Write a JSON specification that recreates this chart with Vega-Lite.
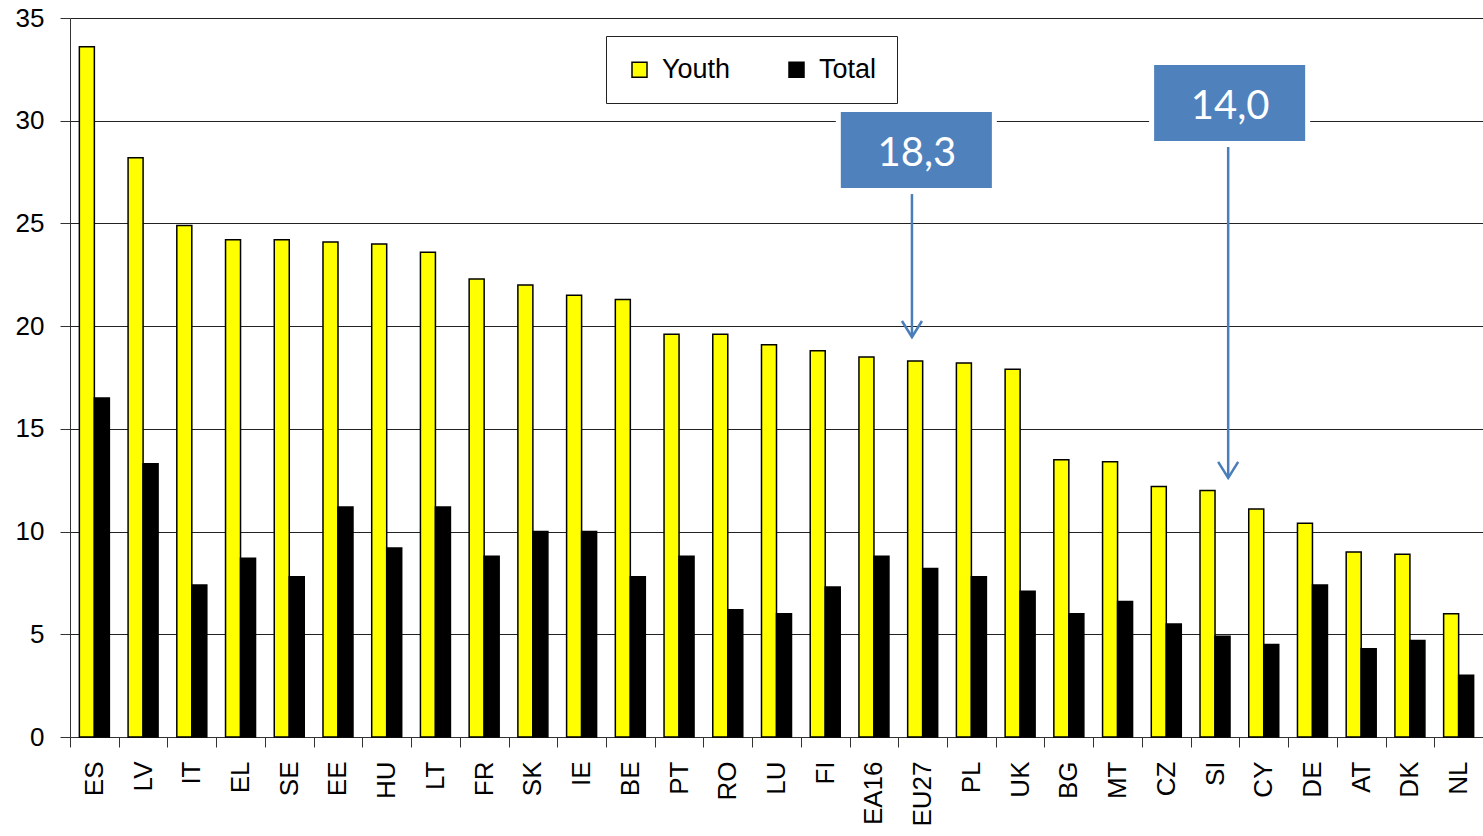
{
  "$schema": "https://vega.github.io/schema/vega-lite/v6.json",
  "width": 1413,
  "height": 719,
  "autosize": {"type": "none"},
  "padding": {"left": 70, "top": 18, "right": 0, "bottom": 99},
  "background": "white",
  "config": {
    "view": {"stroke": null},
    "font": "Liberation Sans"
  },
  "datasets": {
    "bars": [
      {"country": "ES", "series": "Youth", "value": 33.6}, {"country": "ES", "series": "Total", "value": 16.5},
      {"country": "LV", "series": "Youth", "value": 28.2}, {"country": "LV", "series": "Total", "value": 13.3},
      {"country": "IT", "series": "Youth", "value": 24.9}, {"country": "IT", "series": "Total", "value": 7.4},
      {"country": "EL", "series": "Youth", "value": 24.2}, {"country": "EL", "series": "Total", "value": 8.7},
      {"country": "SE", "series": "Youth", "value": 24.2}, {"country": "SE", "series": "Total", "value": 7.8},
      {"country": "EE", "series": "Youth", "value": 24.1}, {"country": "EE", "series": "Total", "value": 11.2},
      {"country": "HU", "series": "Youth", "value": 24.0}, {"country": "HU", "series": "Total", "value": 9.2},
      {"country": "LT", "series": "Youth", "value": 23.6}, {"country": "LT", "series": "Total", "value": 11.2},
      {"country": "FR", "series": "Youth", "value": 22.3}, {"country": "FR", "series": "Total", "value": 8.8},
      {"country": "SK", "series": "Youth", "value": 22.0}, {"country": "SK", "series": "Total", "value": 10.0},
      {"country": "IE", "series": "Youth", "value": 21.5}, {"country": "IE", "series": "Total", "value": 10.0},
      {"country": "BE", "series": "Youth", "value": 21.3}, {"country": "BE", "series": "Total", "value": 7.8},
      {"country": "PT", "series": "Youth", "value": 19.6}, {"country": "PT", "series": "Total", "value": 8.8},
      {"country": "RO", "series": "Youth", "value": 19.6}, {"country": "RO", "series": "Total", "value": 6.2},
      {"country": "LU", "series": "Youth", "value": 19.1}, {"country": "LU", "series": "Total", "value": 6.0},
      {"country": "FI", "series": "Youth", "value": 18.8}, {"country": "FI", "series": "Total", "value": 7.3},
      {"country": "EA16", "series": "Youth", "value": 18.5}, {"country": "EA16", "series": "Total", "value": 8.8},
      {"country": "EU27", "series": "Youth", "value": 18.3}, {"country": "EU27", "series": "Total", "value": 8.2},
      {"country": "PL", "series": "Youth", "value": 18.2}, {"country": "PL", "series": "Total", "value": 7.8},
      {"country": "UK", "series": "Youth", "value": 17.9}, {"country": "UK", "series": "Total", "value": 7.1},
      {"country": "BG", "series": "Youth", "value": 13.5}, {"country": "BG", "series": "Total", "value": 6.0},
      {"country": "MT", "series": "Youth", "value": 13.4}, {"country": "MT", "series": "Total", "value": 6.6},
      {"country": "CZ", "series": "Youth", "value": 12.2}, {"country": "CZ", "series": "Total", "value": 5.5},
      {"country": "SI", "series": "Youth", "value": 12.0}, {"country": "SI", "series": "Total", "value": 4.9},
      {"country": "CY", "series": "Youth", "value": 11.1}, {"country": "CY", "series": "Total", "value": 4.5},
      {"country": "DE", "series": "Youth", "value": 10.4}, {"country": "DE", "series": "Total", "value": 7.4},
      {"country": "AT", "series": "Youth", "value": 9.0}, {"country": "AT", "series": "Total", "value": 4.3},
      {"country": "DK", "series": "Youth", "value": 8.9}, {"country": "DK", "series": "Total", "value": 4.7},
      {"country": "NL", "series": "Youth", "value": 6.0}, {"country": "NL", "series": "Total", "value": 3.0}
    ],
    "notes": [
      {"label": "18,3", "bx1": 15.82, "bx2": 18.92, "by1": 26.72, "by2": 30.42, "ax": 17.28, "ay1": 26.43, "ay2": 19.47, "tx": 17.38, "ty": 27.8},
      {"label": "14,0", "bx1": 22.25, "bx2": 25.35, "by1": 29.01, "by2": 32.71, "ax": 23.77, "ay1": 28.72, "ay2": 12.61, "tx": 23.81, "ty": 30.08}
    ]
  },
  "resolve": {"scale": {"x": "independent"}},
  "layer": [
    {
      "data": {"name": "bars"},
      "mark": {"type": "bar", "stroke": "black", "strokeWidth": 1.5},
      "encoding": {
        "x": {
          "field": "country", "type": "nominal", "sort": null,
          "scale": {"paddingInner": 0, "paddingOuter": 0},
          "axis": {
            "title": null, "labelAngle": -90, "labelFontSize": 26, "labelColor": "#000",
            "labelPadding": 14, "tickSize": 10, "tickColor": "#333", "domainColor": "#333",
            "tickBand": "extent", "grid": false, "labelFont": "Liberation Sans"
          }
        },
        "xOffset": {"field": "series", "type": "nominal", "sort": ["Youth", "Total"], "scale": {"paddingInner": 0, "paddingOuter": 0.624}},
        "y": {
          "field": "value", "type": "quantitative",
          "scale": {"domain": [0, 35], "nice": false},
          "axis": {
            "title": null, "values": [0, 5, 10, 15, 20, 25, 30, 35], "labelFontSize": 26,
            "labelColor": "#000", "labelPadding": 16, "tickSize": 10, "tickColor": "#333",
            "domainColor": "#333", "grid": true, "gridColor": "#222", "gridWidth": 1,
            "labelFont": "Liberation Sans"
          }
        },
        "color": {
          "field": "series", "type": "nominal",
          "scale": {"domain": ["Youth", "Total"], "range": ["#FFFF00", "#000000"]},
          "legend": {
            "title": null, "orient": "none", "legendX": 536, "legendY": 18,
            "direction": "horizontal", "symbolType": "square", "symbolSize": 225,
            "symbolStrokeColor": "black", "symbolStrokeWidth": 1.5,
            "labelFontSize": 27, "labelFont": "Liberation Sans", "labelColor": "#000",
            "labelOffset": 9, "columnPadding": 52, "padding": 20,
            "strokeColor": "#222", "fillColor": "white"
          }
        }
      }
    },
    {
      "data": {"name": "notes"},
      "mark": {"type": "rect", "fill": "white", "stroke": "white", "strokeWidth": 10},
      "encoding": {
        "x": {"field": "bx1", "type": "quantitative", "scale": {"domain": [0, 29], "nice": false, "zero": false}, "axis": null},
        "x2": {"field": "bx2"},
        "y": {"field": "by1", "type": "quantitative"},
        "y2": {"field": "by2"}
      }
    },
    {
      "data": {"name": "notes"},
      "mark": {"type": "rect", "fill": "#4F81BD"},
      "encoding": {
        "x": {"field": "bx1", "type": "quantitative", "scale": {"domain": [0, 29], "nice": false, "zero": false}, "axis": null},
        "x2": {"field": "bx2"},
        "y": {"field": "by1", "type": "quantitative"},
        "y2": {"field": "by2"}
      }
    },
    {
      "data": {"name": "notes"},
      "mark": {"type": "text", "color": "white", "font": "Lato", "fontSize": 40, "baseline": "alphabetic", "align": "center"},
      "encoding": {
        "x": {"field": "tx", "type": "quantitative", "scale": {"domain": [0, 29], "nice": false, "zero": false}, "axis": null},
        "y": {"field": "ty", "type": "quantitative"},
        "text": {"field": "label"}
      }
    },
    {
      "data": {"name": "notes"},
      "mark": {"type": "rule", "color": "#4A7EBB", "strokeWidth": 2.5},
      "encoding": {
        "x": {"field": "ax", "type": "quantitative", "scale": {"domain": [0, 29], "nice": false, "zero": false}, "axis": null},
        "y": {"field": "ay1", "type": "quantitative"},
        "y2": {"field": "ay2"}
      }
    },
    {
      "data": {"name": "notes"},
      "mark": {"type": "point", "shape": "M -1 -1.6 L 0 0 L 1 -1.6", "filled": false, "stroke": "#4A7EBB", "strokeWidth": 2.5, "size": 400, "opacity": 1},
      "encoding": {
        "x": {"field": "ax", "type": "quantitative", "scale": {"domain": [0, 29], "nice": false, "zero": false}, "axis": null},
        "y": {"field": "ay2", "type": "quantitative"}
      }
    }
  ]
}
